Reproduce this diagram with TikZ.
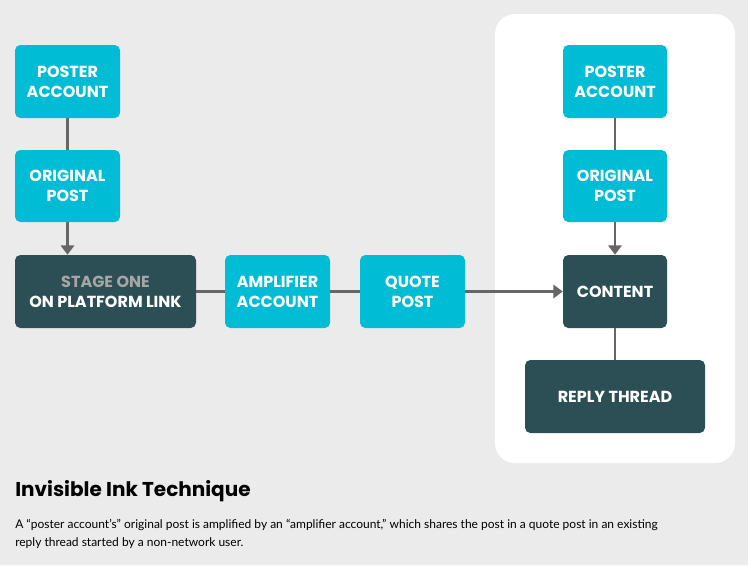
\documentclass[tikz,border=0pt]{standalone}
\usepackage{fontspec}
\setmainfont{Poppins}
\newfontfamily\capfont{Lato}
\usetikzlibrary{arrows.meta}
\definecolor{bg}{HTML}{EBEBEB}
\definecolor{cy}{HTML}{00BCD4}
\definecolor{dk}{HTML}{2B4F55}
\definecolor{ln}{HTML}{666666}
\begin{document}
\begin{tikzpicture}[x=0.75pt,y=-0.75pt,
 box/.style={rounded corners=4pt,fill=cy,text=white,font=\bfseries\fontsize{12}{15}\selectfont,align=center,inner sep=0pt},
 dbox/.style={box,fill=dk},
 con/.style={draw=ln,line width=2.2pt},
 arr/.style={con,-{Triangle[length=7pt,width=10pt]}}]
\fill[bg] (0,0) rectangle (748,565);
\useasboundingbox (0,0) rectangle (748,565);
\fill[white,rounded corners=15pt] (495,14) rectangle (735,463);
\node[box,minimum width=78.75pt,minimum height=54.75pt] (pa) at (67.5,81.5) {POSTER\\ACCOUNT};
\node[box,minimum width=78.75pt,minimum height=54pt] (op) at (67.5,186) {ORIGINAL\\POST};
\node[dbox,minimum width=135.75pt,minimum height=54.75pt] (st) at (105.5,291.5) {\textcolor{gray!70}{STAGE ONE}\\ON PLATFORM LINK};
\node[box,minimum width=78.75pt,minimum height=54.75pt] (am) at (277.5,291.5) {AMPLIFIER\\ACCOUNT};
\node[box,minimum width=78.75pt,minimum height=54.75pt] (qp) at (412.5,291.5) {QUOTE\\POST};
\node[box,minimum width=78pt,minimum height=54.75pt] (pa2) at (615,81.5) {POSTER\\ACCOUNT};
\node[box,minimum width=78pt,minimum height=54pt] (op2) at (615,186) {ORIGINAL\\POST};
\node[dbox,minimum width=78pt,minimum height=54.75pt] (ct) at (615,291.5) {CONTENT};
\node[dbox,minimum width=135pt,minimum height=54.75pt] (rt) at (615,396.5) {REPLY THREAD};
\draw[con] (pa) -- (op);
\draw[arr] (op.south) -- (op.south |- st.north);
\draw[con] (st) -- (am);
\draw[con] (am) -- (qp);
\draw[arr] (qp) -- (ct);
\draw[con] (pa2) -- (op2);
\draw[arr] (op2) -- (ct);
\draw[con] (ct) -- (rt);
\node[anchor=west,inner sep=0pt,font=\bfseries\fontsize{15}{18}\selectfont] (ti) at (15,491) {Invisible Ink Technique};
\node[anchor=north west,inner sep=0pt,align=left,font=\capfont\fontsize{9}{13.5}\selectfont] (cap) at (15,519) {A “poster account’s” original post is amplified by an “amplifier account,” which shares the post in a quote post in an existing\\reply thread started by a non-network user.};
\end{tikzpicture}
\end{document}
